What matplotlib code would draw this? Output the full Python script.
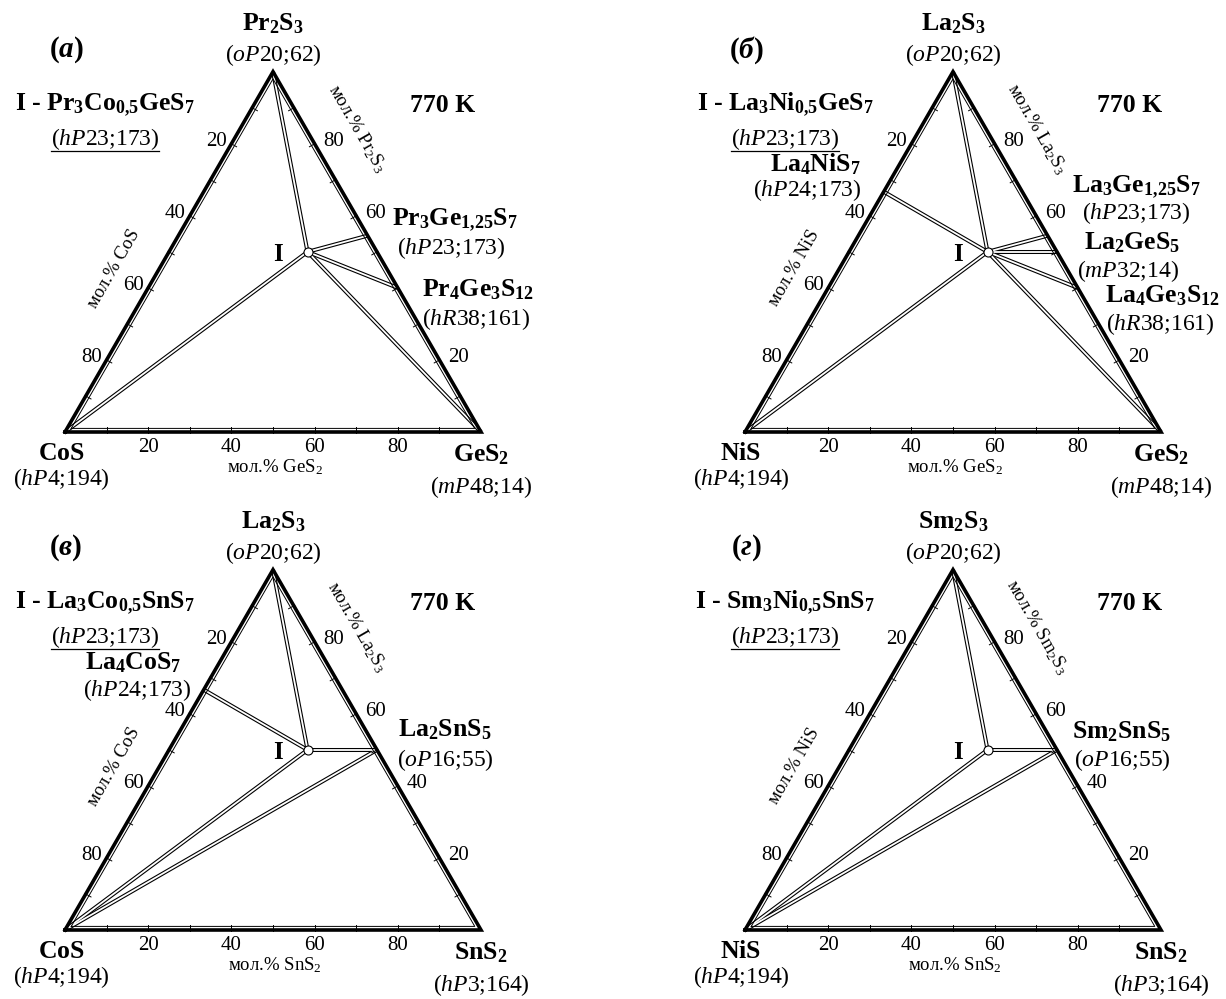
import numpy as np
import matplotlib.pyplot as plt

plt.rcParams['font.family'] = 'Liberation Serif'
plt.rcParams['mathtext.fontset'] = 'custom'
plt.rcParams['mathtext.rm'] = 'Liberation Serif'
plt.rcParams['mathtext.it'] = 'Liberation Serif:italic'
plt.rcParams['mathtext.bf'] = 'Liberation Serif:bold'
plt.rcParams['mathtext.bfit'] = 'Liberation Serif:bold:italic'

# compositions are mol.% (R2S3, MS, GeS2/SnS2)
A_PHASES = ["Pr2S3", "CoS", "GeS2", "I", "Pr3Ge1.25S7", "Pr4Ge3S12"]
A_COMP = [(100, 0, 0), (0, 100, 0), (0, 0, 100),
          (50.0, 16.7, 33.3), (54.5, 0, 45.5), (40.0, 0, 60.0)]
A_TIES = [("I", "Pr2S3"), ("I", "CoS"), ("I", "GeS2"),
          ("I", "Pr3Ge1.25S7"), ("I", "Pr4Ge3S12")]

B_PHASES = ["La2S3", "NiS", "GeS2", "I", "La4NiS7", "La3Ge1.25S7", "La2GeS5", "La4Ge3S12"]
B_COMP = [(100, 0, 0), (0, 100, 0), (0, 0, 100), (50.0, 16.7, 33.3),
          (66.7, 33.3, 0), (54.5, 0, 45.5), (50.0, 0, 50.0), (40.0, 0, 60.0)]
B_TIES = [("I", "La2S3"), ("I", "La4NiS7"), ("I", "NiS"), ("I", "GeS2"),
          ("I", "La3Ge1.25S7"), ("I", "La2GeS5"), ("I", "La4Ge3S12")]

C_PHASES = ["La2S3", "CoS", "SnS2", "I", "La4CoS7", "La2SnS5"]
C_COMP = [(100, 0, 0), (0, 100, 0), (0, 0, 100),
          (50.0, 16.7, 33.3), (66.7, 33.3, 0), (50.0, 0, 50.0)]
C_TIES = [("I", "La2S3"), ("I", "La4CoS7"), ("I", "CoS"),
          ("I", "La2SnS5"), ("La2SnS5", "CoS")]

D_PHASES = ["Sm2S3", "NiS", "SnS2", "I", "Sm2SnS5"]
D_COMP = [(100, 0, 0), (0, 100, 0), (0, 0, 100),
          (50.0, 16.7, 33.3), (50.0, 0, 50.0)]
D_TIES = [("I", "Sm2S3"), ("I", "NiS"), ("I", "Sm2SnS5"), ("Sm2SnS5", "NiS")]

TICK_VALUES = [20, 40, 60, 80]
RIGHT_TICKS_A = [20, 60, 80]
RIGHT_TICKS_B = [20, 60, 80]
RIGHT_TICKS_C = [20, 40, 60, 80]
RIGHT_TICKS_D = [20, 40, 60, 80]

SIDE = 416.0
HEIGHT = SIDE * np.sqrt(3) / 2
INRADIUS = SIDE / (2 * np.sqrt(3))
BOLD = 18.5
REG = 17
TICK_FS = 15
AXIS_FS = 13.5


def tern(origin, comp):
    a, _, r = (v / 100 for v in comp)
    return origin[0] + SIDE * (r + a / 2), origin[1] - HEIGHT * a


def left_point(origin, frac):
    return origin[0] + SIDE / 2 * (1 - frac), origin[1] - HEIGHT * (1 - frac)


def right_point(origin, frac):
    return origin[0] + SIDE * (1 - frac / 2), origin[1] - HEIGHT * frac


def draw_frame(ax, origin):
    ox, oy = origin
    corners = np.array([[ox, oy], [ox + SIDE, oy], [ox + SIDE / 2, oy - HEIGHT]])
    closed = np.vstack([corners, corners[:1]])
    ax.plot(closed[:, 0], closed[:, 1], color="black", lw=2.6,
            solid_joinstyle="miter", zorder=3)
    centre = corners.mean(axis=0)
    inner = centre + (closed - centre) * (1 - 3.6 / INRADIUS)
    ax.plot(inner[:, 0], inner[:, 1], color="black", lw=0.7, zorder=3)

    # small inward ticks every 10 mol.%
    n_left = np.array([np.sqrt(3) / 2, 0.5])
    n_right = np.array([-np.sqrt(3) / 2, 0.5])
    for t in np.arange(0.1, 0.95, 0.1):
        x, y = ox + SIDE * t, oy
        ax.plot([x, x], [y + 1, y - 5], color="black", lw=0.7, zorder=3)
        p = np.array(left_point(origin, t))
        q = p + 6 * n_left
        ax.plot([p[0] - n_left[0], q[0]], [p[1] - n_left[1], q[1]], color="black", lw=0.7, zorder=3)
        p = np.array(right_point(origin, t))
        q = p + 6 * n_right
        ax.plot([p[0] - n_right[0], q[0]], [p[1] - n_right[1], q[1]], color="black", lw=0.7, zorder=3)


def draw_ties(ax, origin, phases, comps, ties):
    pos = {name: tern(origin, c) for name, c in zip(phases, comps)}
    segs = [(pos[a], pos[b]) for a, b in ties]
    for (x0, y0), (x1, y1) in segs:
        ax.plot([x0, x1], [y0, y1], color="black", lw=2.9, solid_capstyle="butt", zorder=1)
    for (x0, y0), (x1, y1) in segs:
        ax.plot([x0, x1], [y0, y1], color="white", lw=1.3, solid_capstyle="butt", zorder=2)
    ix, iy = pos["I"]
    ax.plot(ix, iy, "o", ms=6.5, mfc="white", mec="black", mew=0.8, zorder=5)
    ax.text(ix - 30, iy + 3, "I", fontsize=18, fontweight="bold", ha="center", va="center")


def draw_scales(ax, origin, right_ticks, left_title, right_title, bottom_title):
    ox, oy = origin
    for v in TICK_VALUES:
        ax.text(ox + SIDE * v / 100, oy + 15, str(v), fontsize=TICK_FS, ha="center", va="center")
        x, y = left_point(origin, v / 100)
        ax.text(x - 15, y - 2, str(v), fontsize=TICK_FS, ha="center", va="center")
    for v in right_ticks:
        x, y = right_point(origin, v / 100)
        ax.text(x + 19, y - 2, str(v), fontsize=TICK_FS, ha="center", va="center")

    x, y = left_point(origin, 0.60)
    ax.text(x - 39 * np.sqrt(3) / 2, y - 39 * 0.5, left_title, fontsize=AXIS_FS,
            rotation=60, rotation_mode="anchor", ha="center", va="center")
    x, y = right_point(origin, 0.78)
    ax.text(x + 44 * np.sqrt(3) / 2, y - 44 * 0.5, right_title, fontsize=AXIS_FS,
            rotation=-60, rotation_mode="anchor", ha="center", va="center")
    ax.text(ox + 0.505 * SIDE, oy + 35, bottom_title, fontsize=AXIS_FS, ha="center", va="center")


def put(ax, origin, dx, dy, s, size=REG, weight="normal"):
    return ax.text(origin[0] + dx, origin[1] + dy, s, fontsize=size,
                   fontweight=weight, ha="center", va="center")


def draw_common(ax, origin, letter, apex, left, right, compound, k_dx):
    put(ax, origin, 1, -382, "(" + r"$\mathbfit{" + letter + "}$" + ")", 21, "bold")
    put(ax, origin, SIDE / 2, -408, apex[0], BOLD, "bold")
    put(ax, origin, SIDE / 2, -377, apex[1])
    put(ax, origin, -4, 21, left[0], BOLD, "bold")
    put(ax, origin, -4, 47, left[1])
    put(ax, origin, SIDE, 23, right[0], BOLD, "bold")
    put(ax, origin, SIDE, 55, right[1])
    put(ax, origin, k_dx, -327, "770 K", BOLD, "bold")
    put(ax, origin, 40, -327, "I - " + compound, BOLD, "bold")
    return put(ax, origin, 40, -293, r"($\mathit{hP}$23;173)")


fig = plt.figure(figsize=(12.26, 9.99), dpi=100)
ax = fig.add_axes([0, 0, 1, 1])
ax.set_xlim(0, 1226)
ax.set_ylim(999, 0)
ax.axis("off")

OA, OB, OC, OD = (65, 432), (745, 432), (65, 930), (745, 930)

# (а) Pr2S3 - CoS - GeS2
draw_ties(ax, OA, A_PHASES, A_COMP, A_TIES)
draw_frame(ax, OA)
draw_scales(ax, OA, RIGHT_TICKS_A, "мол.% CoS", "мол.% Pr$_2$S$_3$", "мол.% GeS$_2$")
under = [draw_common(ax, OA, "а", (r"$\mathbf{Pr_2S_3}$", r"($\mathit{oP}$20;62)"),
                     (r"$\mathbf{CoS}$", r"($\mathit{hP}$4;194)"),
                     (r"$\mathbf{GeS_2}$", r"($\mathit{mP}$48;14)"),
                     r"$\mathbf{Pr_3Co_{0{,}5}GeS_7}$", 378)]
put(ax, OA, 390, -212, r"$\mathbf{Pr_3Ge_{1{,}25}S_7}$", BOLD, "bold")
put(ax, OA, 386, -184, r"($\mathit{hP}$23;173)")
put(ax, OA, 413, -142, r"$\mathbf{Pr_4Ge_3S_{12}}$", BOLD, "bold")
put(ax, OA, 411, -113, r"($\mathit{hR}$38;161)")

# (б) La2S3 - NiS - GeS2
draw_ties(ax, OB, B_PHASES, B_COMP, B_TIES)
draw_frame(ax, OB)
draw_scales(ax, OB, RIGHT_TICKS_B, "мол.% NiS", "мол.% La$_2$S$_3$", "мол.% GeS$_2$")
under.append(draw_common(ax, OB, "б", (r"$\mathbf{La_2S_3}$", r"($\mathit{oP}$20;62)"),
                         (r"$\mathbf{NiS}$", r"($\mathit{hP}$4;194)"),
                         (r"$\mathbf{GeS_2}$", r"($\mathit{mP}$48;14)"),
                         r"$\mathbf{La_3Ni_{0{,}5}GeS_7}$", 385))
put(ax, OB, 70, -268, r"$\mathbf{La_4NiS_7}$", BOLD, "bold")
put(ax, OB, 62, -242, r"($\mathit{hP}$24;173)")
put(ax, OB, 391, -245, r"$\mathbf{La_3Ge_{1{,}25}S_7}$", BOLD, "bold")
put(ax, OB, 391, -219, r"($\mathit{hP}$23;173)")
put(ax, OB, 387, -189, r"$\mathbf{La_2GeS_5}$", BOLD, "bold")
put(ax, OB, 383, -161, r"($\mathit{mP}$32;14)")
put(ax, OB, 417, -136, r"$\mathbf{La_4Ge_3S_{12}}$", BOLD, "bold")
put(ax, OB, 415, -108, r"($\mathit{hR}$38;161)")

# (в) La2S3 - CoS - SnS2
draw_ties(ax, OC, C_PHASES, C_COMP, C_TIES)
draw_frame(ax, OC)
draw_scales(ax, OC, RIGHT_TICKS_C, "мол.% CoS", "мол.% La$_2$S$_3$", "мол.% SnS$_2$")
under.append(draw_common(ax, OC, "в", (r"$\mathbf{La_2S_3}$", r"($\mathit{oP}$20;62)"),
                         (r"$\mathbf{CoS}$", r"($\mathit{hP}$4;194)"),
                         (r"$\mathbf{SnS_2}$", r"($\mathit{hP}$3;164)"),
                         r"$\mathbf{La_3Co_{0{,}5}SnS_7}$", 378))
put(ax, OC, 68, -267, r"$\mathbf{La_4CoS_7}$", BOLD, "bold")
put(ax, OC, 72, -240, r"($\mathit{hP}$24;173)")
put(ax, OC, 380, -200, r"$\mathbf{La_2SnS_5}$", BOLD, "bold")
put(ax, OC, 380, -170, r"($\mathit{oP}$16;55)")

# (г) Sm2S3 - NiS - SnS2
draw_ties(ax, OD, D_PHASES, D_COMP, D_TIES)
draw_frame(ax, OD)
draw_scales(ax, OD, RIGHT_TICKS_D, "мол.% NiS", "мол.% Sm$_2$S$_3$", "мол.% SnS$_2$")
under.append(draw_common(ax, OD, "г", (r"$\mathbf{Sm_2S_3}$", r"($\mathit{oP}$20;62)"),
                         (r"$\mathbf{NiS}$", r"($\mathit{hP}$4;194)"),
                         (r"$\mathbf{SnS_2}$", r"($\mathit{hP}$3;164)"),
                         r"$\mathbf{Sm_3Ni_{0{,}5}SnS_7}$", 385))
put(ax, OD, 377, -198, r"$\mathbf{Sm_2SnS_5}$", BOLD, "bold")
put(ax, OD, 377, -170, r"($\mathit{oP}$16;55)")

# underline the structure type of the quaternary compound
fig.canvas.draw()
renderer = fig.canvas.get_renderer()
inv = ax.transData.inverted()
for t in under:
    bb = t.get_window_extent(renderer)
    (x0, y0), (x1, _) = inv.transform([(bb.x0, bb.y0 + 1), (bb.x1, bb.y0 + 1)])
    ax.plot([x0, x1], [y0, y0], color="black", lw=0.9)

fig.savefig("out.png", dpi=100)
